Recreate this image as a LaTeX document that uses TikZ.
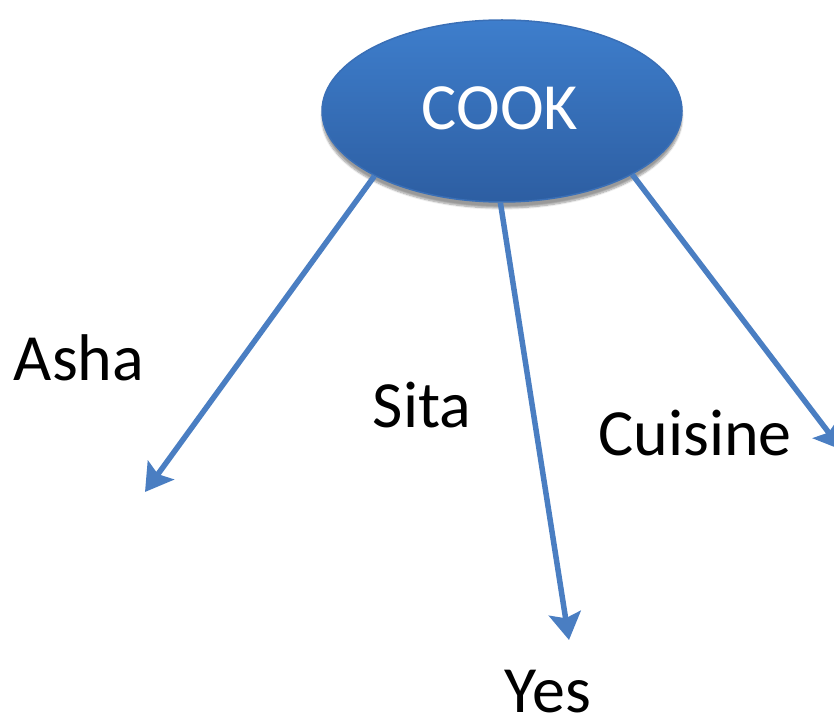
\documentclass[tikz,border=0pt]{standalone}
\usepackage{fontspec}
\setmainfont{Carlito}
\usetikzlibrary{shapes.geometric,arrows.meta,shadows.blur}
\definecolor{arrowblue}{HTML}{4A7EC2}
\definecolor{topblue}{HTML}{3E7ECC}
\definecolor{botblue}{HTML}{2D5EA2}
\definecolor{edgeblue}{HTML}{3A6FB6}
\tikzset{
  lbl/.style={font=\fontsize{66}{70}\selectfont, text=black, anchor=base, inner sep=0pt},
  conn/.style={draw=arrowblue, line width=5.5pt, -{Stealth[length=27pt,width=32pt,inset=5pt]}},
  cookbox/.style={ellipse, minimum width=360pt, minimum height=182pt, inner sep=0pt,
    top color=topblue, bottom color=botblue, draw=edgeblue, line width=1.5pt,
    blur shadow={shadow xshift=0pt, shadow yshift=-6pt, shadow blur steps=8, shadow opacity=40},
    text=white, font=\fontsize{67}{70}\selectfont}
}
\begin{document}
\begin{tikzpicture}[x=1pt,y=1pt]
\useasboundingbox (0,0) rectangle (834,-719);
\node[cookbox] (cook) at (502,-111) {};
\node[lbl, text=white] (cooktxt) at (500,-130) {COOK};
\coordinate (tA) at (145,-492);
\coordinate (tY) at (569,-640);
\coordinate (tC) at (842,-450);
\draw[conn] (cook.-153) -- (tA);
\draw[conn] (cook.-91) -- (tY);
\draw[conn] (cook.-26) -- (tC);
\node[lbl] (asha) at (79,-380) {Asha};
\node[lbl] (sita) at (422,-427) {Sita};
\node[lbl] (cuisine) at (695,-455) {Cuisine};
\node[lbl] (yes) at (548,-712) {Yes};
\end{tikzpicture}
\end{document}
